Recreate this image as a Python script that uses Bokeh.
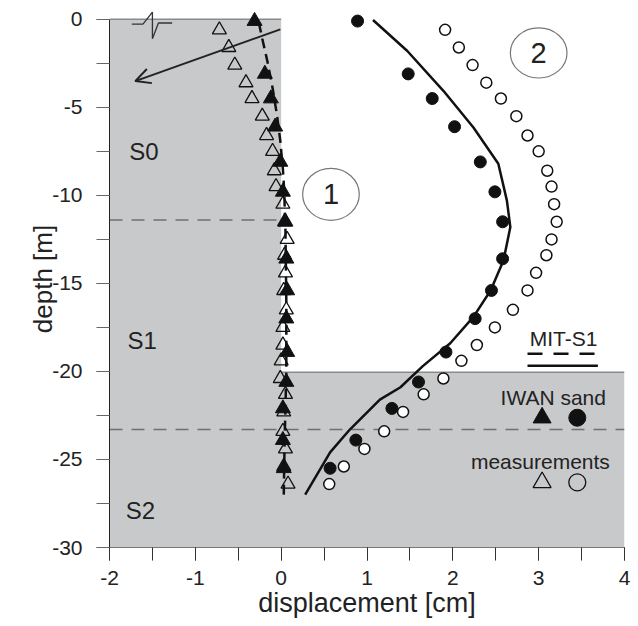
from bokeh.plotting import figure
from bokeh.models import Range1d, FixedTicker, Arrow, OpenHead
from bokeh.core.properties import value
from bokeh.embed import file_html
from bokeh.resources import INLINE

FONT = "Liberation Sans"

# ---- data ----
meas_depth = [-0.6, -1.6, -2.6, -3.6, -4.5, -5.5, -6.6, -7.5, -8.6, -9.5, -10.5, -11.5, -12.5,
              -13.4, -14.4, -15.4, -16.5, -17.5, -18.5, -19.4, -20.4, -21.3, -22.3, -23.4,
              -24.4, -25.4, -26.4]
meas_case1 = [-0.72, -0.61, -0.54, -0.41, -0.34, -0.22, -0.17, -0.10, -0.08, -0.06, 0.02, 0.04,
              0.07, 0.04, 0.05, 0.03, 0.06, 0.02, 0.02, 0.00, -0.01, 0.05, 0.03, 0.02, 0.05,
              0.03, 0.08]
meas_case2 = [1.91, 2.07, 2.23, 2.39, 2.56, 2.74, 2.87, 3.00, 3.10, 3.15, 3.18, 3.21, 3.15, 3.09,
              2.97, 2.87, 2.70, 2.49, 2.28, 2.10, 1.89, 1.66, 1.42, 1.20, 0.97, 0.73, 0.56]

iwan_depth = [-0.1, -3.1, -4.5, -6.1, -8.1, -9.8, -11.5, -13.6, -15.4, -17.0, -18.9, -20.6,
              -22.1, -23.9, -25.5]
iwan_case1 = [-0.31, -0.19, -0.12, -0.07, -0.01, 0.02, 0.05, 0.06, 0.07, 0.06, 0.07, 0.06,
              0.02, 0.02, 0.03]
iwan_case2 = [0.89, 1.48, 1.76, 2.02, 2.32, 2.49, 2.58, 2.58, 2.45, 2.26, 1.92, 1.60, 1.29,
              0.87, 0.57]

mit1_depth = [-0.2, -1.1, -2.4, -3.9, -5.4, -6.9, -8.5, -9.7, -12.0, -16.0, -20.0, -24.0, -27.1]
mit1_disp = [-0.26, -0.22, -0.16, -0.10, -0.05, -0.01, 0.02, 0.035, 0.05, 0.06, 0.06, 0.04, 0.03]

mit2_depth = [-0.04, -1.8, -4.06, -6.15, -8.2, -10.3, -11.8, -13.7, -15.4, -16.9, -18.4, -19.7,
              -20.9, -21.6, -23.3, -24.6, -27.0]
mit2_disp = [1.07, 1.47, 1.89, 2.24, 2.53, 2.63, 2.67, 2.59, 2.44, 2.24, 1.97, 1.65, 1.39, 1.15,
             0.80, 0.57, 0.28]

# soil layers
layer_s0_s1 = -11.4
layer_s1_s2 = -23.3
basin_bottom = -20.05
x_ticks = [-2, -1, 0, 1, 2, 3, 4]
y_ticks = [-30, -25, -20, -15, -10, -5, 0]

# ---- figure ----
p = figure(width=638, height=626, output_backend="svg", toolbar_location=None,
           x_range=Range1d(-2, 4), y_range=Range1d(-30, 0.5),
           min_border_left=109, min_border_right=14, min_border_top=10, min_border_bottom=79)
p.outline_line_color = None
p.background_fill_color = "white"
p.border_fill_color = "white"
p.xgrid.visible = False
p.ygrid.visible = False

# gray soil region
p.patch([-2, 0, 0, 4, 4, -2], [0, 0, basin_bottom, basin_bottom, -30, -30],
        fill_color="#c8c9cb", line_color=None)
p.line([-2, 0], [0, 0], line_color="#8a8a8a", line_width=1.5)
p.line([0, 4], [basin_bottom, basin_bottom], line_color="#8a8a8a", line_width=1.5)
p.line([-2, 0.1], [layer_s0_s1, layer_s0_s1], line_color="#707070", line_width=1.5,
       line_dash="13 9")
p.line([-2, 4], [layer_s1_s2, layer_s1_s2], line_color="#707070", line_width=1.5,
       line_dash="13 9")

# layer labels
p.text(x=[-1.6, -1.62, -1.64], y=[-7.5, -18.25, -27.9], text=["S0", "S1", "S2"],
       text_font=value(FONT), text_font_size="24px", text_align="center",
       text_baseline="alphabetic", text_color="#222222")

# seismic wiggle + arrow
p.line([-1.74, -1.61, -1.50, -1.50, -1.43, -1.27], [-0.27, -0.27, 0.41, -1.11, -0.21, -0.21],
       line_color="#333333", line_width=1.3)
p.add_layout(Arrow(end=OpenHead(size=15, line_width=2, line_color="#222222"),
                   x_start=-0.01, y_start=-0.57, x_end=-1.70, y_end=-3.51,
                   line_width=2, line_color="#222222"))

# curves
p.line(mit1_disp, mit1_depth, line_color="#111111", line_width=2.5, line_dash="10 6")
p.line(mit2_disp, mit2_depth, line_color="#111111", line_width=2.5)

# markers
p.scatter(meas_case1, meas_depth, marker="triangle", size=14, fill_color=None,
          line_color="#111111", line_width=1.3)
p.scatter(iwan_case1, iwan_depth, marker="triangle", size=15, fill_color="#111111",
          line_color="#111111")
p.scatter(meas_case2, meas_depth, marker="circle", size=11, fill_color="white",
          line_color="#111111", line_width=1.5)
p.scatter(iwan_case2, iwan_depth, marker="circle", size=12, fill_color="#111111",
          line_color="#111111")

# circled case numbers
p.ellipse(x=[0.58, 3.0], y=[-9.94, -1.91], width=[0.66, 0.66], height=[2.95, 2.85],
          fill_color="white", line_color="#777777", line_width=1.2)
p.text(x=[0.58, 3.0], y=[-9.94, -1.91], text=["1", "2"], text_font=value(FONT),
       text_font_size="29px", text_align="center", text_baseline="middle",
       text_color="#222222")

# legend
p.text(x=[3.29, 3.17, 3.02], y=[-18.14, -21.5, -25.13],
       text=["MIT-S1", "IWAN sand", "measurements"], text_font=value(FONT),
       text_font_size="21px", text_align="center", text_baseline="alphabetic",
       text_color="#222222")
p.line([2.87, 3.69], [-19.0, -19.0], line_color="#111111", line_width=2.5, line_dash="15 11")
p.line([2.87, 3.69], [-19.68, -19.68], line_color="#111111", line_width=2.5)
p.scatter([3.04], [-22.63], marker="triangle", size=18, fill_color="#111111",
          line_color="#111111")
p.scatter([3.45], [-22.63], marker="circle", size=17, fill_color="#111111",
          line_color="#111111")
p.scatter([3.04], [-26.3], marker="triangle", size=18, fill_color=None,
          line_color="#111111", line_width=1.3)
p.scatter([3.45], [-26.3], marker="circle", size=17, fill_color=None,
          line_color="#111111", line_width=1.3)

# axes
p.xaxis.ticker = FixedTicker(ticks=x_ticks, minor_ticks=[-2 + 0.5 * i for i in range(13)])
p.yaxis.ticker = FixedTicker(ticks=y_ticks, minor_ticks=[-30 + 2.5 * i for i in range(13)])
p.xaxis.major_label_overrides = {t: str(t) for t in x_ticks}
p.yaxis.major_label_overrides = {t: str(t) for t in y_ticks}
p.yaxis.bounds = (-30, 0)
for ax in (p.xaxis, p.yaxis):
    ax.major_tick_out = 13
    ax.major_tick_in = 0
    ax.minor_tick_out = 13
    ax.minor_tick_in = 0
    ax.major_label_text_font = FONT
    ax.major_label_text_font_size = "21px"
    ax.major_label_text_color = "#222222"
    ax.axis_label_text_font = FONT
    ax.axis_label_text_font_style = "normal"
    ax.axis_label_text_color = "#222222"
p.xaxis.axis_label_text_font_size = "27px"
p.yaxis.axis_label_text_font_size = "26px"
p.xaxis.major_label_standoff = 10
p.yaxis.major_label_standoff = 14
p.xaxis.axis_label = "displacement [cm]"
p.yaxis.axis_label = "depth [m]"
p.xaxis.axis_line_color = "#777777"
p.xaxis.major_tick_line_color = "#333333"
p.xaxis.minor_tick_line_color = "#333333"
p.yaxis.axis_line_color = "#222222"
p.yaxis.major_tick_line_color = "#666666"
p.yaxis.minor_tick_line_color = "#666666"
p.xaxis.axis_label_standoff = 0
p.yaxis.axis_label_standoff = -9

open("out.html", "w").write(file_html(p, INLINE))
